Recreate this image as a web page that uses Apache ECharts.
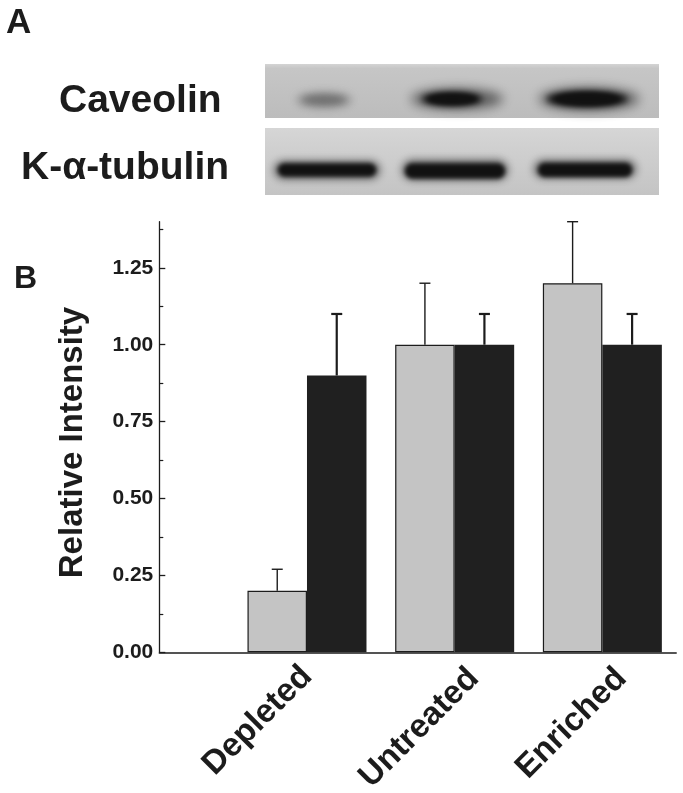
<!DOCTYPE html>
<html>
<head>
<meta charset="utf-8">
<script src="https://cdn.jsdelivr.net/npm/echarts@6/dist/echarts.min.js"></script>
<style>
  html, body { margin: 0; padding: 0; background: #fff; }
  #chart { width: 683px; height: 793px; }
</style>
</head>
<body>
<div id="chart"></div>
<script>
// chart data
const categories = ['Depleted', 'Untreated', 'Enriched'];
const grayValues = [0.2, 1.0, 1.2];
const grayErrors = [0.07, 0.2, 0.2];
const blackValues = [0.9, 1.0, 1.0];
const blackErrors = [0.2, 0.1, 0.1];
const yTicks = [0, 0.25, 0.5, 0.75, 1.0, 1.25];
const yMinorTicks = [0.125, 0.375, 0.625, 0.875, 1.125, 1.375];

// x axis runs 0..3.5 in half steps, groups sit on 1, 2, 3
const slots = ['', ''];
categories.forEach((c, i) => {
    // the last two labels sit a little further along in the original
    slots.push(i === 0 ? c : { value: c, textStyle: { padding: [0, -12, 0, 0] } });
    slots.push('');
});
const slotIndex = categories.map((c, i) => 2 * (i + 1));

function toSlots(values) {
    const arr = slots.map(() => '-');
    values.forEach((v, i) => { arr[slotIndex[i]] = v; });
    return arr;
}

const barW = 59.5;
const textColor = '#1c1c1c';
const font = 'Liberation Sans, Arial, sans-serif';

function errorSeries(values, errors, side, lineW) {
    return {
        type: 'custom',
        z: 5,
        data: values.map((v, i) => [slotIndex[i], v, errors[i]]),
        renderItem: function (params, api) {
            const base = api.coord([api.value(0), api.value(1)]);
            const top = api.coord([api.value(0), api.value(1) + api.value(2)]);
            const x = base[0] + side * barW / 2;
            const cap = 5.5;
            return {
                type: 'group',
                children: [
                    { type: 'line', shape: { x1: x, y1: base[1], x2: x, y2: top[1] },
                      style: { stroke: '#1c1c1c', lineWidth: lineW } },
                    { type: 'line', shape: { x1: x - cap, y1: top[1], x2: x + cap, y2: top[1] },
                      style: { stroke: '#1c1c1c', lineWidth: lineW } }
                ]
            };
        }
    };
}

// western blot panel (picture decoration)
// shapes are drawn off canvas, only their blurred shadow lands on the strip
const away = 2000;
function blob(cx, cy, rx, ry, color, blur) {
    return {
        type: 'ellipse',
        shape: { cx: cx - away, cy: cy, rx: rx, ry: ry },
        style: { fill: color, shadowBlur: blur, shadowColor: color, shadowOffsetX: away },
        silent: true
    };
}
function band(cx, cy, w, h, color, blur) {
    return {
        type: 'rect',
        shape: { x: cx - w / 2 - away, y: cy - h / 2, width: w, height: h, r: h / 2 },
        style: { fill: color, shadowBlur: blur, shadowColor: color, shadowOffsetX: away },
        silent: true
    };
}

const blot = [
    { type: 'rect', shape: { x: 265, y: 64, width: 394, height: 54 },
      style: { fill: new echarts.graphic.LinearGradient(0, 0, 0, 1, [
          { offset: 0, color: '#d4d4d4' }, { offset: 0.08, color: '#c6c6c6' },
          { offset: 1, color: '#bcbcbc' }]) }, silent: true },
    { type: 'rect', shape: { x: 265, y: 128, width: 394, height: 67 },
      style: { fill: new echarts.graphic.LinearGradient(0, 0, 0, 1, [
          { offset: 0, color: '#d6d6d6' }, { offset: 0.3, color: '#d0d0d0' },
          { offset: 1, color: '#c4c4c4' }]) }, silent: true },
    // caveolin
    blob(324, 100, 27, 7, 'rgba(95,95,95,0.85)', 10),
    blob(324, 100, 20, 5, 'rgba(90,90,90,0.6)', 6),
    blob(457, 99, 46, 10, 'rgba(45,45,45,0.85)', 12),
    blob(452, 99, 30, 7, '#111', 6),
    blob(452, 99, 24, 5, '#111', 4),
    blob(589, 99, 50, 11, 'rgba(45,45,45,0.85)', 12),
    blob(587, 99, 40, 8, '#111', 6),
    blob(587, 99, 32, 6, '#111', 4),
    // tubulin
    band(327, 170, 106, 18, 'rgba(30,30,30,0.8)', 8),
    band(327, 170, 98, 13, '#111', 4),
    band(455, 170, 106, 20, 'rgba(30,30,30,0.8)', 8),
    band(455, 171, 100, 15, '#111', 4),
    band(585, 169, 102, 18, 'rgba(30,30,30,0.8)', 8),
    band(585, 170, 94, 14, '#111', 4),
    { type: 'text', style: { text: 'A', x: 6, y: 23, font: 'bold 35px ' + font, fill: textColor, textVerticalAlign: 'middle' } },
    { type: 'text', style: { text: 'Caveolin', x: 59, y: 101, font: 'bold 39px ' + font, fill: textColor, textVerticalAlign: 'middle' } },
    { type: 'text', style: { text: 'K-\u03b1-tubulin', x: 21, y: 168, font: 'bold 39px ' + font, fill: textColor, textVerticalAlign: 'middle' } },
    { type: 'text', style: { text: 'B', x: 14, y: 279, font: 'bold 32px ' + font, fill: textColor, textVerticalAlign: 'middle' } }
];

const chart = echarts.init(document.getElementById('chart'));
const option = {
    animation: false,
    backgroundColor: '#fff',
    grid: { left: 159.3, right: 6.8, top: 221.7, bottom: 140.7, outerBoundsMode: 'none' },
    xAxis: {
        type: 'category',
        data: slots,
        boundaryGap: false,
        axisLine: { lineStyle: { color: '#1c1c1c', width: 1.5 } },
        axisTick: { show: false },
        axisLabel: {
            interval: 0,
            rotate: 45,
            margin: 19,
            formatter: v => {
                if (!v) return '';
                // an empty first line pushes the later labels down-right a bit
                return v === categories[0] ? '{b|' + v + '}' : '{s| }\n{b|' + v + '}';
            },
            rich: {
                b: { color: textColor, fontFamily: font, fontWeight: 'bold', fontSize: 33, lineHeight: 38 },
                s: { fontSize: 10, lineHeight: 30 }
            }
        },
        splitLine: { show: false }
    },
    yAxis: [
        {
            type: 'value',
            position: 'left',
            min: 0,
            max: 1.4,
            interval: 0.25,
            name: 'Relative Intensity',
            nameLocation: 'middle',
            nameGap: 70,
            nameTextStyle: { color: textColor, fontFamily: font, fontWeight: 'bold', fontSize: 33, padding: [0, 11, 0, 0] },
            axisLine: { show: true, lineStyle: { color: '#1c1c1c', width: 1.3 } },
            axisTick: { show: true, inside: true, length: 6, customValues: yTicks, lineStyle: { color: '#1c1c1c', width: 1.3 } },
            axisLabel: {
                customValues: yTicks,
                formatter: v => v.toFixed(2),
                margin: 6,
                color: textColor,
                fontFamily: font,
                fontWeight: 'bold',
                fontSize: 21
            },
            splitLine: { show: false }
        },
        {
            type: 'value',
            position: 'left',
            min: 0,
            max: 1.4,
            axisLine: { show: false },
            axisTick: { show: true, inside: true, length: 4, customValues: yMinorTicks, lineStyle: { color: '#1c1c1c', width: 1.2 } },
            axisLabel: { show: false },
            splitLine: { show: false }
        }
    ],
    series: [
        {
            type: 'bar',
            data: toSlots(grayValues),
            barWidth: barW,
            barGap: '0%',
            itemStyle: { color: '#c4c4c4', borderColor: '#1c1c1c', borderWidth: 1.2 }
        },
        {
            type: 'bar',
            data: toSlots(blackValues),
            barWidth: barW,
            barGap: '0%',
            itemStyle: { color: '#202020' }
        },
        errorSeries(grayValues, grayErrors, -1, 1.4),
        errorSeries(blackValues, blackErrors, 1, 2.2)
    ],
    graphic: blot
};
chart.setOption(option);
</script>
</body>
</html>
